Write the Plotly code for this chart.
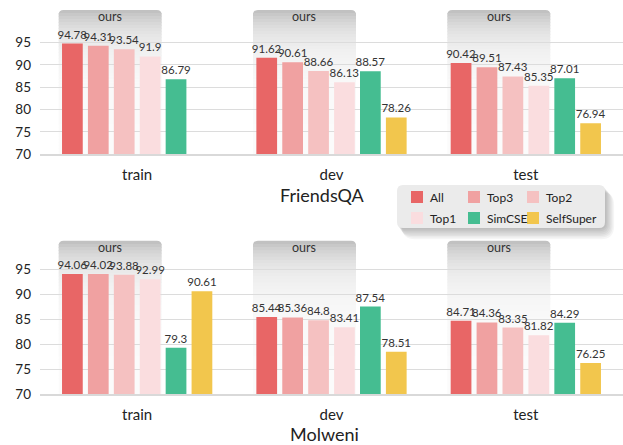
import plotly.graph_objects as go
import math

categories = ["train", "dev", "test"]
series_names = ["All", "Top3", "Top2", "Top1", "SimCSE", "SelfSuper"]
colors = ["#E86666", "#F0A1A1", "#F5C1C1", "#FADDDF", "#45BD91", "#F2C64D"]

friendsqa = {
    "All": [94.78, 91.62, 90.42],
    "Top3": [94.31, 90.61, 89.51],
    "Top2": [93.54, 88.66, 87.43],
    "Top1": [91.9, 86.13, 85.35],
    "SimCSE": [86.79, 88.57, 87.01],
    "SelfSuper": [None, 78.26, 76.94],
}
molweni = {
    "All": [94.06, 85.44, 84.71],
    "Top3": [94.02, 85.36, 84.36],
    "Top2": [93.88, 84.8, 83.35],
    "Top1": [92.99, 83.41, 81.82],
    "SimCSE": [79.3, 87.54, 84.29],
    "SelfSuper": [90.61, 78.51, 76.25],
}
y_ticks = [70, 75, 80, 85, 90, 95]
panel_titles = ["FriendsQA", "Molweni"]

W, H = 623, 445
ML = 40
PW = W - ML
FONT = "Lato"

# pixel layout of the two panels (top px, bottom px, range max)
top_panel = (10, 154.3, 102.3)
bot_panel = (240.7, 394.3, 100.7)

def py2paper(py):
    return 1 - py / H

def px2paper(px):
    return (px - ML) / PW

fig = go.Figure()

for p, (data, xa, ya) in enumerate([(friendsqa, "x", "y"), (molweni, "x2", "y2")]):
    for k, name in enumerate(series_names):
        vals = data[name]
        fig.add_trace(go.Bar(
            x=categories, y=vals, name=name,
            marker=dict(color=colors[k], line=dict(width=0)),
            text=[("" if v is None else f"{v:g}") for v in vals],
            textposition="outside", constraintext="none", cliponaxis=False,
            textfont=dict(size=11.5, color="#333333", family=FONT),
            xaxis=xa, yaxis=ya, showlegend=False,
            offsetgroup=str(k),
        ))

shapes = []
annotations = []

# gradient "ours" boxes
n_cat = len(categories)
slot = 0.8 / len(series_names)
for (ytop_px, ybot_px, _rmax) in [top_panel, bot_panel]:
    for i in range(n_cat):
        x0 = i - 0.4 - 0.004
        x1 = i - 0.4 + 4 * slot - 0.2 * slot / 2 + 0.006
        px0 = (x0 + 0.5) / n_cat
        px1 = (x1 + 0.5) / n_cat
        nstrip = 48
        height = ybot_px - ytop_px
        for s in range(nstrip):
            a = ytop_px + height * s / nstrip
            b = ytop_px + height * (s + 1) / nstrip + 0.6
            d = height * (s + 0.5) / nstrip
            v = int(round(251 - 62 * math.exp(-d / 24)))
            col = f"rgb({v},{v},{v})"
            if s == 0:
                r = 5
                yA = py2paper(a)
                yB = py2paper(min(b, ybot_px))
                rx = r / PW
                ry = r / H
                path = (f"M {px0},{yB} L {px0},{yA - ry} Q {px0},{yA} {px0 + rx},{yA} "
                        f"L {px1 - rx},{yA} Q {px1},{yA} {px1},{yA - ry} L {px1},{yB} Z")
                shapes.append(dict(type="path", path=path, xref="paper", yref="paper",
                                   fillcolor=col, line=dict(width=0), layer="below"))
            else:
                shapes.append(dict(type="rect", xref="paper", yref="paper",
                                   x0=px0, x1=px1, y0=py2paper(min(b, ybot_px)), y1=py2paper(a),
                                   fillcolor=col, line=dict(width=0), layer="below"))
        annotations.append(dict(text="ours", xref="paper", yref="paper",
                                x=(px0 + px1) / 2, y=py2paper(ytop_px + 6.5),
                                xanchor="center", yanchor="middle", showarrow=False,
                                font=dict(size=12.5, color="#333333", family=FONT)))

# legend background with shadow
lx0, lx1, ly0, ly1 = 397, 605, 185, 228
def rrect(x0, y0, x1, y1, r):
    X = px2paper
    Y = py2paper
    rx = r / PW
    ry = r / H
    return (f"M {X(x0)+rx},{Y(y0)} L {X(x1)-rx},{Y(y0)} Q {X(x1)},{Y(y0)} {X(x1)},{Y(y0)-ry} "
            f"L {X(x1)},{Y(y1)+ry} Q {X(x1)},{Y(y1)} {X(x1)-rx},{Y(y1)} "
            f"L {X(x0)+rx},{Y(y1)} Q {X(x0)},{Y(y1)} {X(x0)},{Y(y1)+ry} "
            f"L {X(x0)},{Y(y0)-ry} Q {X(x0)},{Y(y0)} {X(x0)+rx},{Y(y0)} Z")
for s in range(7, 0, -1):
    shapes.append(dict(type="path", path=rrect(lx0 + s * 0.7, ly0 + s * 1.0, lx1 + s * 1.3, ly1 + s * 1.6, 6 + s),
                       xref="paper", yref="paper", fillcolor="rgba(0,0,0,0.04)",
                       line=dict(width=0), layer="above"))
shapes.append(dict(type="path", path=rrect(lx0, ly0, lx1, ly1, 6), xref="paper", yref="paper",
                   fillcolor="#EBEBEB", line=dict(width=0), layer="above"))

# legend entries (3 columns x 2 rows)
col_x = [411, 468, 527]
row_y = [197, 218]
for k, name in enumerate(series_names):
    cx = col_x[k % 3]
    cy = row_y[k // 3]
    shapes.append(dict(type="rect", xref="paper", yref="paper",
                       x0=px2paper(cx), x1=px2paper(cx + 12),
                       y0=py2paper(cy + 6), y1=py2paper(cy - 6),
                       fillcolor=colors[k], line=dict(width=0), layer="above"))
    annotations.append(dict(text=name, xref="paper", yref="paper",
                            x=px2paper(cx + 17), y=py2paper(cy + 0.5),
                            xanchor="left", yanchor="middle", showarrow=False,
                            font=dict(size=12, color="#222222", family=FONT)))

# panel titles
annotations.append(dict(text=panel_titles[0], xref="paper", yref="paper", x=px2paper(322),
                        y=py2paper(195), xanchor="center", yanchor="middle", showarrow=False,
                        font=dict(size=18, color="#222222", family=FONT)))
annotations.append(dict(text=panel_titles[1], xref="paper", yref="paper", x=px2paper(324),
                        y=py2paper(434), xanchor="center", yanchor="middle", showarrow=False,
                        font=dict(size=18, color="#222222", family=FONT)))

def xaxis_cfg(anchor):
    return dict(type="category", categoryorder="array", categoryarray=categories,
                range=[-0.5, 2.5], domain=[0, 1], anchor=anchor, showgrid=False,
                showline=True, linecolor="#D9D9D9", linewidth=1.5, ticks="",
                ticklabelstandoff=6, automargin=False,
                tickfont=dict(size=15, color="#222222", family=FONT))

def yaxis_cfg(anchor, panel):
    ytop, ybot, rmax = panel
    return dict(range=[70, rmax], domain=[py2paper(ybot), py2paper(ytop)], anchor=anchor,
                tickvals=y_ticks, showgrid=True, gridcolor="#DCDCDC", gridwidth=1.3,
                zeroline=False, showline=False, ticks="", ticklabelstandoff=8,
                automargin=False,
                tickfont=dict(size=13.5, color="#222222", family=FONT))

fig.update_layout(
    width=W, height=H,
    margin=dict(l=ML, r=0, t=0, b=0, autoexpand=False),
    paper_bgcolor="white", plot_bgcolor="white",
    barmode="group", bargap=0.2, bargroupgap=0.2,
    font=dict(family=FONT, color="#222222"),
    showlegend=False,
    xaxis=xaxis_cfg("y"), yaxis=yaxis_cfg("x", top_panel),
    xaxis2=xaxis_cfg("y2"), yaxis2=yaxis_cfg("x2", bot_panel),
    shapes=shapes, annotations=annotations,
)

fig.write_html("out.html", config={"displayModeBar": False},
               post_script="document.body.style.margin='0';document.body.style.overflow='hidden';")
